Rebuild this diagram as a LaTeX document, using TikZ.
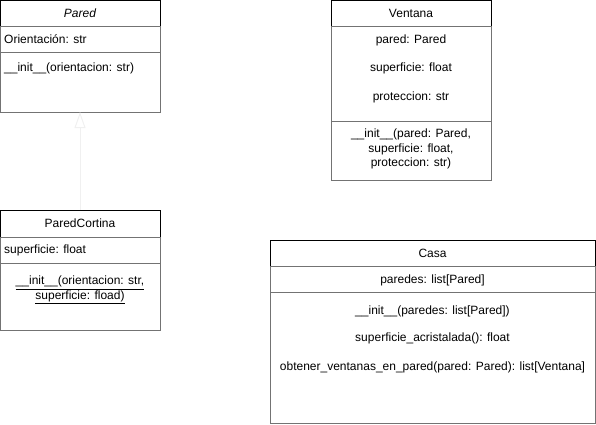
\documentclass[tikz,border=0pt]{standalone}
\usepackage{fontspec}
\setmainfont{Liberation Sans}
\usepackage{tikz}
\usetikzlibrary{shapes,arrows,arrows.meta,positioning}
\tikzset{
  classhead/.style={draw=black, line width=1pt, anchor=north west, inner sep=0pt, outer sep=0pt,
    minimum height=26pt, font=\fontsize{12}{14}\selectfont},
  classpart/.style={draw=black!55, line width=1pt, anchor=north west, inner sep=0pt, outer sep=0pt},
  txt/.style={inner sep=0pt, font=\fontsize{12}{14.5}\selectfont, align=center},
  ltxt/.style={txt, anchor=west, align=left}
}

\begin{document}
\begin{tikzpicture}[x=1pt,y=-1pt]
\useasboundingbox (0,0) rectangle (596,424);

% Pared
\node[classhead, minimum width=160pt] (pared) at (0,0) {\itshape Pared};
\node[classpart, minimum width=160pt, minimum height=26pt] (paredattr) at (0,26) {};
\node[classpart, minimum width=160pt, minimum height=60pt] (paredops) at (0,52) {};
\node[ltxt] (pareda1) at (4,39) {Orientación: str};
\node[ltxt] (paredo1) at (4,68) {\_\_init\_\_(orientacion: str)};

% ParedCortina
\node[classhead, minimum width=160pt, minimum height=27pt] (cortina) at (0,210) {ParedCortina};
\node[classpart, minimum width=160pt, minimum height=26pt] (cortinaattr) at (0,237) {};
\node[classpart, minimum width=160pt, minimum height=67pt] (cortinaops) at (0,263) {};
\node[ltxt] (cortinaa1) at (4,250) {superficie: float};
\node[txt] (cortinao1) at (80,290) {\underline{\_\_init\_\_(orientacion: str,}\\\underline{superficie: fload)}};

% Ventana
\node[classhead, minimum width=160pt] (ventana) at (331,0) {Ventana};
\node[classpart, minimum width=160pt, minimum height=95pt] (ventanaattr) at (331,26) {};
\node[classpart, minimum width=160pt, minimum height=59pt] (ventanaops) at (331,121) {};
\node[txt] (ventanaa1) at (411,40) {pared: Pared};
\node[txt] (ventanaa2) at (411,68.5) {superficie: float};
\node[txt] (ventanaa3) at (411,97) {proteccion: str};
\node[txt] (ventanao1) at (411,149) {\_\_init\_\_(pared: Pared,\\superficie: float,\\proteccion: str)};

% Casa
\node[classhead, minimum width=325pt] (casa) at (270,240) {Casa};
\node[classpart, minimum width=325pt, minimum height=26pt] (casaattr) at (270,266) {};
\node[classpart, minimum width=325pt, minimum height=131pt] (casaops) at (270,292) {};
\node[txt] (casaa1) at (432.5,280) {paredes: list[Pared]};
\node[txt] (casao1) at (432.5,311) {\_\_init\_\_(paredes: list[Pared])};
\node[txt] (casao2) at (432.5,338.5) {superficie\_acristalada(): float};
\node[txt] (casao3) at (432.5,367) {obtener\_ventanas\_en\_pared(pared: Pared): list[Ventana]};

% herencia
\draw[black!6, line width=1pt, -{Triangle[open, length=16pt, width=11pt]}] (cortina.north) -- (paredops.south);
\end{tikzpicture}
\end{document}
